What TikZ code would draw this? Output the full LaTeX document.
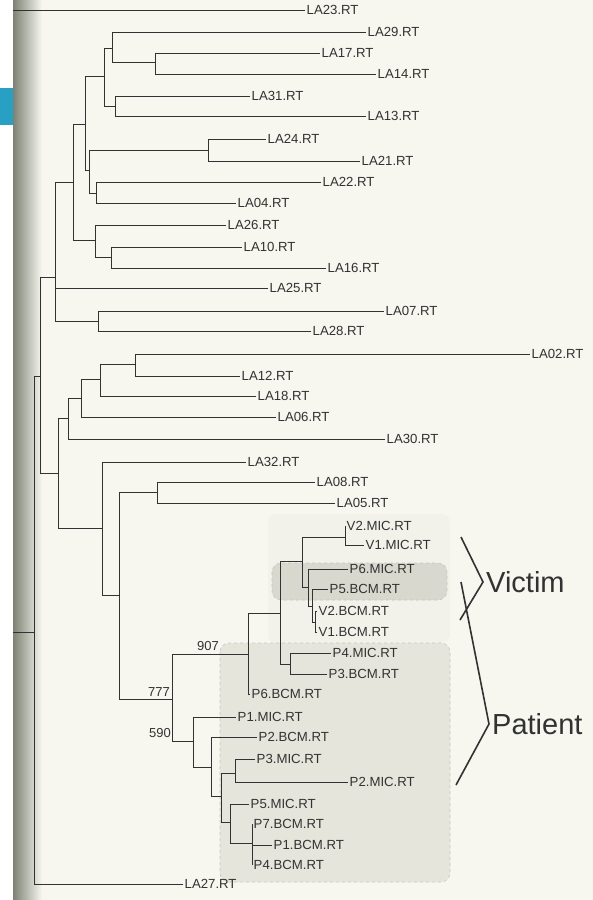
\documentclass[tikz,border=0pt]{standalone}
\usepackage{fontspec}
\setmainfont{Liberation Sans}
\usepackage{tikz}
\usetikzlibrary{positioning}
\definecolor{paper}{RGB}{247,247,240}
\definecolor{ink}{RGB}{50,50,50}
\definecolor{patientbg}{RGB}{229,229,219}
\definecolor{victimbg}{RGB}{216,216,206}
\definecolor{faintbg}{RGB}{242,242,235}
\definecolor{scanedge}{RGB}{125,130,115}
\definecolor{tab}{RGB}{40,160,195}

\begin{document}
\begin{tikzpicture}[
    x=1pt, y=-1pt,
    branch/.style={draw=ink, line width=0.8pt},
    leaf/.style={anchor=west, inner sep=1.5pt, text=ink, font=\fontsize{13.2}{15}\selectfont},
    boot/.style={inner sep=1pt, text=ink, font=\fontsize{13}{15}\selectfont},
    bracket/.style={draw=ink, line width=1.6pt},
    grouplabel/.style={anchor=west, inner sep=1pt, text=ink, font=\fontsize{29}{33}\selectfont},
    groupbox/.style={draw=gray!45, dashed, rounded corners=9pt, line width=0.6pt}
]
    \useasboundingbox (0,0) rectangle (593,900);

    % Scanned page
    \fill[white] (0,0) rectangle (593,900);
    \fill[paper] (13,0) rectangle (593,900);
    \shade[left color=scanedge, right color=paper] (13,0) rectangle (42,900);
    \fill[tab] (0,88) rectangle (13,125);

    % Highlighted groups
    \fill[faintbg, rounded corners=8pt] (268,514) rectangle (450,643);
    \path[groupbox, fill=victimbg] (272,563) rectangle (447,600);
    \path[groupbox, fill=patientbg] (220,643) rectangle (450,882);

    % Internal nodes
    \coordinate (cut) at (13,10);
    \coordinate (stub) at (13,632);
    \coordinate (root) at (34,632);
    \coordinate (nA) at (40,376);
    \coordinate (nB) at (55,277);
    \coordinate (nD) at (73,182);
    \coordinate (nF) at (85,124);
    \coordinate (nH) at (104,76);
    \coordinate (nJ) at (112,48);
    \coordinate (nL) at (155,62);
    \coordinate (nK) at (115,106);
    \coordinate (nI) at (89,170);
    \coordinate (nM) at (208,150);
    \coordinate (nN) at (96,193);
    \coordinate (nG) at (95,240);
    \coordinate (nO) at (111,257);
    \coordinate (nE) at (98,321);
    \coordinate (nC) at (58,473);
    \coordinate (nP) at (68,418);
    \coordinate (nR) at (81,398);
    \coordinate (nS) at (100,379);
    \coordinate (nT) at (135,364);
    \coordinate (nQ) at (102,528);
    \coordinate (nV) at (119,595);
    \coordinate (nW) at (157,492);
    \coordinate (nX) at (172,699);
    \coordinate (nY) at (248,654);
    \coordinate (nAA) at (280,613);
    \coordinate (nAB) at (302,561);
    \coordinate (nAD) at (345,537);
    \coordinate (nAE) at (308,587);
    \coordinate (nAF) at (312,606);
    \coordinate (nAG) at (315,622);
    \coordinate (nAC) at (290,664);
    \coordinate (nZ) at (193,741);
    \coordinate (nBA) at (211,767);
    \coordinate (nBB) at (221,796);
    \coordinate (nBC) at (235,773);
    \coordinate (nBD) at (230,822);
    \coordinate (nBE) at (252,843);

    % Leaves
    \node[leaf] (la23) at (305,10) {LA23.RT};
    \node[leaf] (la29) at (366,32) {LA29.RT};
    \node[leaf] (la17) at (320,53) {LA17.RT};
    \node[leaf] (la14) at (376,74) {LA14.RT};
    \node[leaf] (la31) at (250,96) {LA31.RT};
    \node[leaf] (la13) at (366,116) {LA13.RT};
    \node[leaf] (la24) at (266,139) {LA24.RT};
    \node[leaf] (la21) at (360,161) {LA21.RT};
    \node[leaf] (la22) at (321,182) {LA22.RT};
    \node[leaf] (la04) at (236,203) {LA04.RT};
    \node[leaf] (la26) at (226,225) {LA26.RT};
    \node[leaf] (la10) at (242,247) {LA10.RT};
    \node[leaf] (la16) at (326,268) {LA16.RT};
    \node[leaf] (la25) at (268,288) {LA25.RT};
    \node[leaf] (la07) at (384,311) {LA07.RT};
    \node[leaf] (la28) at (311,331) {LA28.RT};
    \node[leaf] (la02) at (530,354) {LA02.RT};
    \node[leaf] (la12) at (240,376) {LA12.RT};
    \node[leaf] (la18) at (256,396) {LA18.RT};
    \node[leaf] (la06) at (276,417) {LA06.RT};
    \node[leaf] (la30) at (385,439) {LA30.RT};
    \node[leaf] (la32) at (246,462) {LA32.RT};
    \node[leaf] (la08) at (315,482) {LA08.RT};
    \node[leaf] (la05) at (335,503) {LA05.RT};
    \node[leaf] (v2mic) at (345,526) {V2.MIC.RT};
    \node[leaf] (v1mic) at (364,545) {V1.MIC.RT};
    \node[leaf] (p6mic) at (348,569) {P6.MIC.RT};
    \node[leaf] (p5bcm) at (328,589) {P5.BCM.RT};
    \node[leaf] (v2bcm) at (317,611) {V2.BCM.RT};
    \node[leaf] (v1bcm) at (317,632) {V1.BCM.RT};
    \node[leaf] (p4mic) at (331,653) {P4.MIC.RT};
    \node[leaf] (p3bcm) at (327,674) {P3.BCM.RT};
    \node[leaf] (p6bcm) at (250,694) {P6.BCM.RT};
    \node[leaf] (p1mic) at (236,717) {P1.MIC.RT};
    \node[leaf] (p2bcm) at (257,737) {P2.BCM.RT};
    \node[leaf] (p3mic) at (255,759) {P3.MIC.RT};
    \node[leaf] (p2mic) at (348,782) {P2.MIC.RT};
    \node[leaf] (p5mic) at (249,804) {P5.MIC.RT};
    \node[leaf] (p7bcm) at (252,824) {P7.BCM.RT};
    \node[leaf] (p1bcm) at (272,845) {P1.BCM.RT};
    \node[leaf] (p4bcm) at (252,865) {P4.BCM.RT};
    \node[leaf] (la27) at (183,884) {LA27.RT};

    % Bootstrap values
    \node[boot] (b907) at (208,646) {907};
    \node[boot] (b777) at (159,692) {777};
    \node[boot] (b590) at (160,733) {590};

    % Branches
    \draw[branch] (cut) -- (la23.west);
    \draw[branch] (stub) -- (root);
    \draw[branch] (root) |- (nA) (root) |- (la27.west);
    \draw[branch] (nA) |- (nB) (nA) |- (nC);
    \draw[branch] (nB) |- (nD) (nB) |- (la25.west) (nB) |- (nE);
    \draw[branch] (nD) |- (nF) (nD) |- (nG);
    \draw[branch] (nF) |- (nH) (nF) |- (nI);
    \draw[branch] (nH) |- (nJ) (nH) |- (nK);
    \draw[branch] (nJ) |- (la29.west) (nJ) |- (nL);
    \draw[branch] (nL) |- (la17.west) (nL) |- (la14.west);
    \draw[branch] (nK) |- (la31.west) (nK) |- (la13.west);
    \draw[branch] (nI) |- (nM) (nI) |- (nN);
    \draw[branch] (nM) |- (la24.west) (nM) |- (la21.west);
    \draw[branch] (nN) |- (la22.west) (nN) |- (la04.west);
    \draw[branch] (nG) |- (la26.west) (nG) |- (nO);
    \draw[branch] (nO) |- (la10.west) (nO) |- (la16.west);
    \draw[branch] (nE) |- (la07.west) (nE) |- (la28.west);
    \draw[branch] (nC) |- (nP) (nC) |- (nQ);
    \draw[branch] (nP) |- (nR) (nP) |- (la30.west);
    \draw[branch] (nR) |- (nS) (nR) |- (la06.west);
    \draw[branch] (nS) |- (nT) (nS) |- (la18.west);
    \draw[branch] (nT) |- (la02.west) (nT) |- (la12.west);
    \draw[branch] (nQ) |- (la32.west) (nQ) |- (nV);
    \draw[branch] (nV) |- (nW) (nV) |- (nX);
    \draw[branch] (nW) |- (la08.west) (nW) |- (la05.west);
    \draw[branch] (nX) |- (nY) (nX) |- (nZ);
    \draw[branch] (nY) |- (nAA) (nY) |- (p6bcm.west);
    \draw[branch] (nAA) |- (nAB) (nAA) |- (nAC);
    \draw[branch] (nAB) |- (nAD) (nAB) |- (nAE);
    \draw[branch] (nAD) |- (v2mic.west) (nAD) |- (v1mic.west);
    \draw[branch] (nAE) |- (p6mic.west) (nAE) |- (nAF);
    \draw[branch] (nAF) |- (p5bcm.west) (nAF) |- (nAG);
    \draw[branch] (nAG) |- (v2bcm.west) (nAG) |- (v1bcm.west);
    \draw[branch] (nAC) |- (p4mic.west) (nAC) |- (p3bcm.west);
    \draw[branch] (nZ) |- (p1mic.west) (nZ) |- (nBA);
    \draw[branch] (nBA) |- (p2bcm.west) (nBA) |- (nBB);
    \draw[branch] (nBB) |- (nBC) (nBB) |- (nBD);
    \draw[branch] (nBC) |- (p3mic.west) (nBC) |- (p2mic.west);
    \draw[branch] (nBD) |- (p5mic.west) (nBD) |- (nBE);
    \draw[branch] (nBE) |- (p7bcm.west) (nBE) |- (p1bcm.west) (nBE) |- (p4bcm.west);

    % Group brackets
    \coordinate (vtop) at (461,537);
    \coordinate (vtip) at (483,582);
    \coordinate (vbot) at (460,620);
    \coordinate (ptop) at (461,582);
    \coordinate (ptip) at (489,724);
    \coordinate (pbot) at (456,785);
    \draw[bracket] (vtop) -- (vtip) -- (vbot);
    \draw[bracket] (ptop) -- (ptip) -- (pbot);
    \node[grouplabel, right=2pt of vtip] (victim) {Victim};
    \node[grouplabel, right=2pt of ptip] (patient) {Patient};
\end{tikzpicture}
\end{document}
